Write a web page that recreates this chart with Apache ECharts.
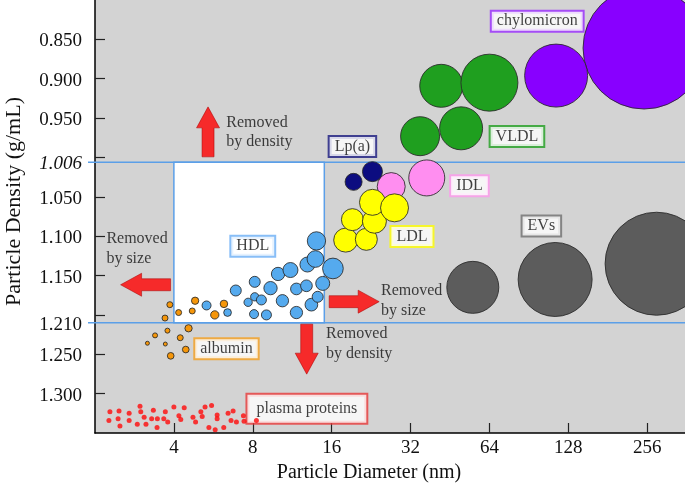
<!DOCTYPE html>
<html><head><meta charset="utf-8">
<script src="https://cdn.jsdelivr.net/npm/echarts@6/dist/echarts.min.js"></script>
<style>html,body{margin:0;padding:0;background:#fff}#c{width:685px;height:484px}</style>
</head><body><div id="c"></div>
<script>
// ---------- data (diameter nm, density g/mL, bubble size) ----------
const xTicks = [4, 8, 16, 32, 64, 128, 256];
const yTicks = [0.85, 0.90, 0.95, 1.00, 1.05, 1.10, 1.15, 1.20, 1.25, 1.30];
const yLabels = [0.85, 0.90, 0.95, 1.006, 1.05, 1.10, 1.15, 1.21, 1.25, 1.30];
const densityCutoffs = [1.006, 1.21];
const hdlWindowDiameter = [4, 15];

const chylomicron = [[249, 0.861, 122], [115, 0.896, 63]];
const vldl = [[41.9, 0.909, 43], [64, 0.905, 57], [34.8, 0.973, 39], [49.9, 0.963, 43]];
const idl = [[27.0, 1.037, 28], [36.9, 1.026, 36]];
const lpa = [[19.4, 1.031, 17], [22.9, 1.018, 20]];
const ldl = [[18.1, 1.105, 24], [21.7, 1.104, 22], [19.2, 1.079, 22], [23.3, 1.081, 24], [22.9, 1.057, 26], [27.8, 1.064, 28]];
const hdl = [[5.33, 1.188, 9], [6.41, 1.197, 7.7], [8.09, 1.199, 9], [9.02, 1.200, 10], [6.89, 1.169, 11],
  [7.68, 1.184, 8.3], [8.14, 1.177, 8.3], [8.63, 1.181, 10], [8.14, 1.158, 11], [10.38, 1.182, 12.3],
  [11.74, 1.197, 12.3], [13.39, 1.187, 12.7], [14.15, 1.177, 11], [11.74, 1.167, 11.7], [12.82, 1.163, 11.7],
  [9.35, 1.166, 13.3], [14.79, 1.160, 14], [9.99, 1.148, 13.3], [11.14, 1.143, 15], [16.18, 1.141, 20.7],
  [12.93, 1.136, 15], [13.87, 1.129, 16.7], [14.0, 1.106, 18.3]];
const evs = [[55.3, 1.165, 52], [114, 1.155, 74], [278, 1.135, 103]];
const albumin = [[4.82, 1.182, 7.3], [4.70, 1.195, 6], [4.17, 1.197, 6], [3.86, 1.187, 6], [3.70, 1.204, 6],
  [6.21, 1.186, 7.5], [5.73, 1.200, 8.3], [3.78, 1.220, 5], [3.39, 1.226, 5], [3.17, 1.236, 4],
  [3.71, 1.237, 4], [4.23, 1.229, 6], [4.55, 1.217, 7.3], [4.44, 1.244, 6.7], [3.89, 1.252, 6.7]];
const plasmaProteins = [[2.28, 1.323], [2.47, 1.322], [2.26, 1.334], [2.45, 1.332], [2.49, 1.341], [2.70, 1.325],
  [2.70, 1.334], [2.90, 1.339], [2.97, 1.316], [2.99, 1.323], [3.08, 1.330], [3.13, 1.339], [3.34, 1.321],
  [3.29, 1.332], [3.46, 1.332], [3.45, 1.343], [3.71, 1.323], [3.66, 1.332], [3.79, 1.336], [4.00, 1.317],
  [4.18, 1.328], [4.25, 1.333], [4.38, 1.318], [4.73, 1.330], [4.84, 1.336], [5.07, 1.323], [5.13, 1.329],
  [5.26, 1.317], [5.57, 1.315], [5.44, 1.343], [5.75, 1.346], [5.85, 1.327], [5.85, 1.332], [6.20, 1.343],
  [6.44, 1.325], [6.61, 1.334], [6.73, 1.322], [6.93, 1.336], [7.37, 1.328], [7.41, 1.335], [8.26, 1.334]];

const classLabels = ['chylomicron', 'VLDL', 'Lp(a)', 'IDL', 'LDL', 'HDL', 'EVs', 'albumin', 'plasma proteins'];
const classLabelAnchors = [[97.4, 0.827], [81.5, 0.9735], [19.2, 0.986], [53.7, 1.036], [32.4, 1.1004],
  [8.0, 1.1128], [101, 1.0872], [6.35, 1.2431], [12.87, 1.3192]];
const noteTexts = ['Removed\nby density', 'Removed\nby size', 'Removed\nby size', 'Removed\nby density'];
const noteAnchors = [[6.37, 0.9436], [2.22, 1.0919], [24.8, 1.1579], [15.3, 1.2124]];
const arrowAnchors = [[5.40, 0.9675], [3.12, 1.1617], [19.5, 1.1832], [12.85, 1.2435]];
const arrowRotations = [0, 90, -90, 180];

// ---------- styles ----------
const FONT = '"Liberation Serif", "Times New Roman", serif';
const BLUE = '#5b9fe8';
const classBorder = ['#9a2cff', '#22a022', '#1a1a80', '#ff99ee', '#ffff00', '#6aaef5', '#707070', '#f5a020', '#e83a3a'];
const arrowPath = 'path://M11.5,0 L23,21 L17.5,21 L17.5,50 L5.5,50 L5.5,21 L0,21 Z';

function bubbles(name, data, color, z) {
  return {
    name, type: 'scatter', data, z: z || 5,
    symbolSize: v => v[2],
    itemStyle: { color, borderColor: 'rgba(40,40,40,0.85)', borderWidth: 1, opacity: 1 },
    emphasis: { disabled: true }, silent: true, clip: false
  };
}

const chart = echarts.init(document.getElementById('c'), null, { renderer: 'canvas' });
chart.setOption({
  animation: false,
  backgroundColor: '#ffffff',
  grid: { left: 95, right: -1, top: 0, bottom: 51, show: true, backgroundColor: '#d3d3d3', borderWidth: 0,
          containLabel: false, outerBoundsMode: 'none' },
  xAxis: {
    type: 'log', logBase: 2, min: 2, max: 360,
    name: 'Particle Diameter (nm)', nameLocation: 'middle', nameGap: 25,
    nameTextStyle: { fontFamily: FONT, fontSize: 20, color: '#111', padding: [0, 43, 0, 0] },
    axisLine: { show: true, lineStyle: { color: '#000', width: 1.5 } },
    axisTick: { show: true, inside: true, length: 10, lineStyle: { color: '#222', width: 1.2 } },
    axisLabel: { fontFamily: FONT, fontSize: 19, color: '#111', margin: 6, showMinLabel: false, showMaxLabel: false,
      formatter: v => xTicks.indexOf(Math.round(v)) >= 0 ? String(Math.round(v)) : '' },
    splitLine: { show: false }, minorTick: { show: false }
  },
  yAxis: {
    type: 'value', inverse: true, min: 0.80, max: 1.35, interval: 0.05,
    name: 'Particle Density (g/mL)', nameLocation: 'middle', nameGap: 70,
    nameTextStyle: { fontFamily: FONT, fontSize: 22, color: '#111', padding: [0, 0, 0, 30] },
    axisLine: { show: true, lineStyle: { color: '#000', width: 1.5 } },
    axisTick: { show: true, inside: true, length: 10, customValues: yTicks, lineStyle: { color: '#222', width: 1.2 } },
    axisLabel: { fontFamily: FONT, fontSize: 19, color: '#111', margin: 13, customValues: yLabels, padding: [4, 0, 0, 0],
      formatter: v => Math.abs(v - 1.006) < 1e-6 ? '{i|' + v.toFixed(3) + '}' : v.toFixed(3),
      rich: { i: { fontFamily: FONT, fontSize: 19, fontStyle: 'italic', color: '#111' } } },
    splitLine: { show: false }
  },
  series: [
    { name: 'window', type: 'scatter', data: [], z: 1, silent: true,
      markArea: { silent: true, itemStyle: { color: '#ffffff', borderColor: BLUE, borderWidth: 1.5 },
        data: [[{ coord: [hdlWindowDiameter[0], densityCutoffs[0]] }, { coord: [hdlWindowDiameter[1], densityCutoffs[1]] }]] } },
    { name: 'labels', type: 'scatter', z: 4, silent: true, symbolSize: 1, itemStyle: { color: 'transparent' },
      data: classLabels.map((t, i) => ({ value: classLabelAnchors[i], name: t,
        label: { borderColor: classBorder[i], padding: i === 8 ? [7, 9, 5, 9] : [2, 5, 1, 5] } })),
      label: { show: true, position: 'inside', align: 'center', verticalAlign: 'middle', formatter: p => p.name,
        fontFamily: FONT, fontSize: 16, lineHeight: 16, color: '#111', backgroundColor: '#fff', borderWidth: 2 } },
    bubbles('chylomicron', chylomicron, '#8800ff'),
    bubbles('VLDL', vldl, '#1f9f1f'),
    bubbles('IDL', idl, '#ff8ef0'),
    bubbles('Lp(a)', lpa, '#0c0c80'),
    bubbles('LDL', ldl, '#ffff00'),
    bubbles('HDL', hdl, '#55aaee'),
    bubbles('EVs', evs, '#5c5c5c'),
    bubbles('albumin', albumin, '#f5960a'),
    { name: 'plasma proteins', type: 'scatter', data: plasmaProteins, z: 5, symbolSize: 5, silent: true,
      itemStyle: { color: '#ff0a0a' } },
    { name: 'arrows', type: 'scatter', z: 6, silent: true, symbol: arrowPath,
      data: arrowAnchors.map((a, i) => ({ value: a, symbolRotate: arrowRotations[i], symbolSize: [23, 50] })),
      itemStyle: { color: '#ff0000', borderColor: '#a80000', borderWidth: 0.6 } },
    { name: 'notes', type: 'scatter', z: 6, silent: true, symbolSize: 1, itemStyle: { color: 'transparent' },
      data: noteTexts.map((t, i) => ({ value: noteAnchors[i], name: t })),
      label: { show: true, position: [0, 0], align: 'left', verticalAlign: 'top', formatter: p => p.name,
        fontFamily: FONT, fontSize: 16, lineHeight: 19.5, color: '#111' } }
  ]
});

// density cut-off lines (extend slightly left of the axis, like the reference)
const lines = densityCutoffs.map(d => {
  const p = chart.convertToPixel({ gridIndex: 0 }, [2, d]);
  return { type: 'line', z: 2, silent: true,
    shape: { x1: p[0] - 7, y1: p[1], x2: 685, y2: p[1] },
    style: { stroke: BLUE, lineWidth: 1.5 } };
});
chart.setOption({ graphic: lines });
</script></body></html>
